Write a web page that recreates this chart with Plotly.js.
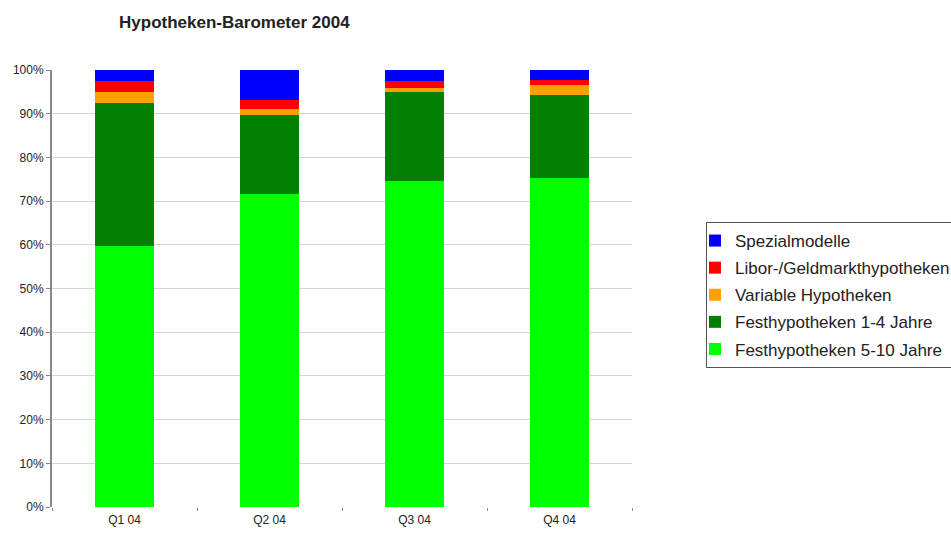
<!DOCTYPE html>
<html>
<head>
<meta charset="utf-8">
<script src="https://cdn.plot.ly/plotly-3.0.1.min.js"></script>
<style>html,body{margin:0;padding:0;background:#fff;}#chart{width:951px;height:534px;}</style>
</head>
<body>
<div id="chart"></div>
<script>
var categories = ["Q1 04", "Q2 04", "Q3 04", "Q4 04"];
var fest510 = [59.7, 71.6, 74.6, 75.4];
var fest14 = [32.7, 18.1, 20.3, 18.9];
var variable = [2.5, 1.3, 0.9, 2.3];
var libor = [2.6, 2.2, 1.7, 1.1];
var spezial = [2.5, 6.8, 2.5, 2.3];
var seriesNames = ["Festhypotheken 5-10 Jahre", "Festhypotheken 1-4 Jahre", "Variable Hypotheken", "Libor-/Geldmarkthypotheken", "Spezialmodelle"];
var yTickVals = [0, 10, 20, 30, 40, 50, 60, 70, 80, 90, 100];
var yTickText = ["0%", "10%", "20%", "30%", "40%", "50%", "60%", "70%", "80%", "90%", "100%"];

var seriesValues = [fest510, fest14, variable, libor, spezial];
var colors = ["#00FF00", "#008000", "#FFA000", "#FF0000", "#0000FF"];

var traces = seriesValues.map(function (vals, i) {
  return {
    type: "bar",
    name: seriesNames[i],
    legendgroup: "g" + i,
    legendrank: 1000 - i,
    x: categories,
    y: vals,
    marker: { color: colors[i], line: { width: 0 } },
    hoverinfo: "name+y"
  };
});

var layout = {
  width: 951,
  height: 534,
  barmode: "stack",
  bargap: 0.59,
  paper_bgcolor: "#ffffff",
  plot_bgcolor: "#ffffff",
  font: { family: "Liberation Sans, Arial, sans-serif", color: "#222", size: 12 },
  margin: { l: 52, r: 319, t: 70, b: 27, autoexpand: false },
  title: {
    text: "<b>Hypotheken-Barometer 2004</b>",
    font: { size: 17, color: "#222" },
    x: 299 / 951,
    xref: "paper",
    xanchor: "center",
    y: 1 - 22 / 534,
    yanchor: "middle"
  },
  xaxis: {
    type: "category",
    showline: false,
    showgrid: false,
    zeroline: false,
    ticks: "outside",
    tickson: "boundaries",
    ticklen: 3,
    tickcolor: "#888",
    ticklabelstandoff: 4,
    tickfont: { size: 12, color: "#222" }
  },
  yaxis: {
    range: [0, 100],
    tickmode: "array",
    tickvals: yTickVals,
    ticktext: yTickText,
    showline: true,
    linecolor: "#888",
    linewidth: 2,
    ticks: "outside",
    ticklen: 4,
    tickcolor: "#888",
    showgrid: true,
    gridcolor: "#d4d4d4",
    gridwidth: 1,
    zeroline: false,
    tickfont: { size: 12, color: "#222" }
  },
  showlegend: true,
  legend: {
    x: (706 - 52) / 580,
    xanchor: "left",
    y: (507 - 222) / 437,
    yanchor: "top",
    traceorder: "grouped",
    tracegroupgap: 2,
    bgcolor: "#ffffff",
    bordercolor: "#555",
    borderwidth: 1,
    font: { size: 17, color: "#222" },
    indentation: -12
  }
};

Plotly.newPlot("chart", traces, layout, { displayModeBar: false, staticPlot: true });
</script>
</body>
</html>
